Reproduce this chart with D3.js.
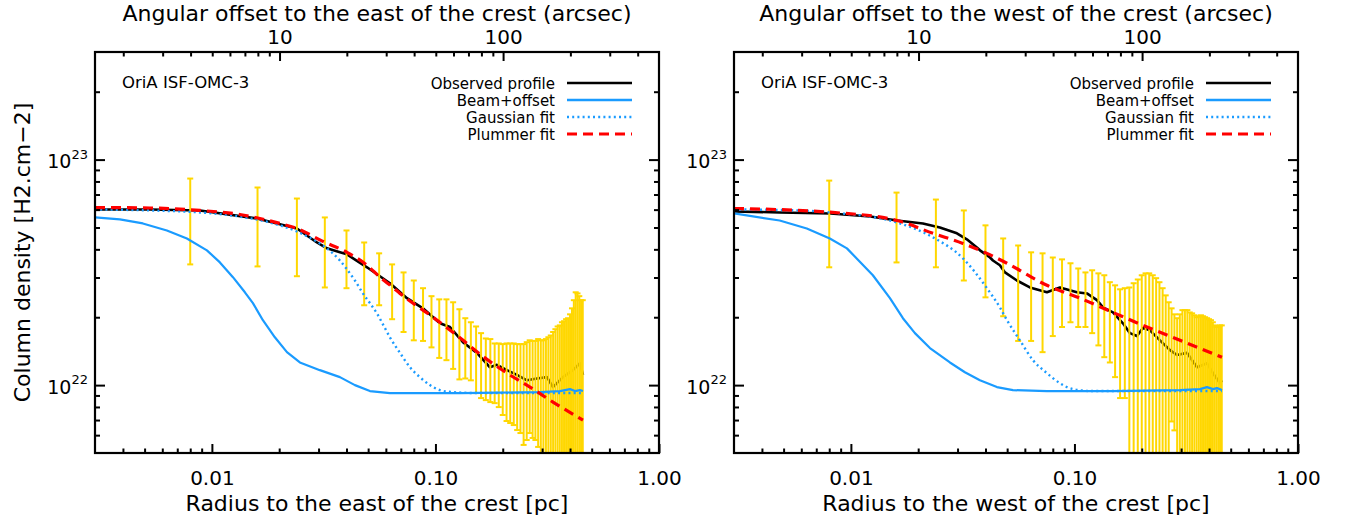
<!DOCTYPE html>
<html>
<head>
<meta charset="utf-8">
<script src="https://cdn.jsdelivr.net/npm/d3@7/dist/d3.min.js"></script>
<style>
html,body{margin:0;padding:0;background:#fff;}
svg{display:block;}
text{font-family:"DejaVu Sans",sans-serif;fill:#000;}
</style>
</head>
<body>
<svg id="chart" width="1346" height="522"></svg>
<script>
// ---------------- data ----------------
const sourceName = "OriA ISF-OMC-3";
const sides = ["east", "west"];
const legendNames = ["Observed profile", "Beam+offset", "Gaussian fit", "Plummer fit"];
const xTickValues = [0.01, 0.1, 1];
const xTickLabels = ["0.01", "0.10", "1.00"];
const topTickValues = [10, 100];
const topTickLabels = ["10", "100"];
const yTickValues = [1e22, 1e23];
const yTickBase = "10";
const yTickExps = ["22", "23"];
const distancePc = 414;

// radii of the error bars (pc)
const barRadius = [0.008,0.016,0.024,0.032,0.040,0.048,0.056,0.064,0.072,0.080,0.088,0.096,0.104,0.112,0.120,0.128,0.136,0.144,0.152,0.160,0.168,0.176,0.184,0.192,0.200,0.208,0.216,0.224,0.232,0.240,0.248,0.256,0.264,0.272,0.280,0.288,0.296,0.304,0.312,0.320,0.328,0.336,0.344,0.352,0.360,0.368,0.376,0.384,0.392,0.400,0.408,0.416,0.424,0.432,0.440,0.448,0.456];

// ---- east ----
const eastObsR = [0.003,0.00528,0.00884,0.0159,0.0240,0.0295,0.0327,0.0374,0.0402,0.0494,0.0626,0.0746,0.0879,0.1047,0.1161,0.1327,0.1533,0.1753,0.1884,0.2089,0.2315,0.2566,0.2844,0.3153,0.3355,0.3719,0.4122,0.4430,0.457];
const eastObsN = [6.01e22,6.01e22,5.95e22,5.48e22,4.95e22,4.29e22,4.04e22,3.88e22,3.80e22,3.33e22,2.83e22,2.43e22,2.19e22,1.88e22,1.81e22,1.55e22,1.39e22,1.20e22,1.23e22,1.165e22,1.11e22,1.05e22,1.07e22,1.085e22,9.8e21,1.085e22,1.165e22,1.25e22,1.11e22];
const eastBeamR = [0.003,0.003877,0.00491,0.00629,0.00773,0.00950,0.01086,0.01242,0.01405,0.01526,0.01691,0.01913,0.02166,0.02475,0.03041,0.03738,0.04363,0.05091,0.06257,0.0852,0.1287,0.1943,0.2935,0.3606,0.3998,0.4209,0.443,0.457];
const eastBeamN = [5.54e22,5.43e22,5.21e22,4.85e22,4.47e22,3.96e22,3.50e22,3.01e22,2.58e22,2.31e22,1.94e22,1.63e22,1.40e22,1.26e22,1.165e22,1.085e22,1.0e22,9.41e21,9.22e21,9.22e21,9.22e21,9.26e21,9.31e21,9.41e21,9.6e21,9.41e21,9.5e21,9.41e21];
const eastGaussR = [0.003,0.00528,0.00884,0.01334,0.01818,0.0240,0.02889,0.03269,0.03738,0.0402,0.04363,0.04739,0.05091,0.05472,0.05943,0.06257,0.06939,0.0769,0.0852,0.09449,0.1047,0.1197,0.1581,0.457];
const eastGaussN = [6.01e22,5.95e22,5.83e22,5.59e22,5.26e22,4.80e22,4.38e22,4.04e22,3.57e22,3.26e22,2.91e22,2.55e22,2.31e22,2.08e22,1.79e22,1.63e22,1.39e22,1.20e22,1.085e22,1.0e22,9.50e21,9.31e21,9.22e21,9.22e21];
const eastPlumR = [0.003,0.00528,0.00884,0.01334,0.0164,0.02015,0.0240,0.03137,0.0402,0.0494,0.05646,0.0645,0.06939,0.0975,0.1287,0.1631,0.2089,0.2648,0.3355,0.457];
const eastPlumN = [6.13e22,6.10e22,5.95e22,5.71e22,5.48e22,5.21e22,4.95e22,4.34e22,3.88e22,3.40e22,3.01e22,2.71e22,2.55e22,2.00e22,1.62e22,1.34e22,1.13e22,9.80e21,8.41e21,7.00e21];
const eastBarHi = [8.24e22,7.52e22,6.72e22,5.54e22,4.85e22,4.29e22,3.84e22,3.43e22,3.16e22,2.91e22,2.69e22,2.48e22,2.40e22,2.40e22,2.33e22,2.17e22,1.98e22,1.90e22,1.82e22,1.70e22,1.61e22,1.60e22,1.53e22,1.53e22,1.52e22,1.53e22,1.53e22,1.53e22,1.52e22,1.52e22,1.52e22,1.55e22,1.58e22,1.57e22,1.57e22,1.60e22,1.58e22,1.58e22,1.60e22,1.63e22,1.66e22,1.72e22,1.77e22,1.82e22,1.84e22,1.90e22,1.92e22,1.96e22,1.98e22,2.06e22,2.19e22,2.38e22,2.58e22,2.55e22,2.48e22,2.38e22,2.38e22];
const eastBarLo = [3.43e22,3.36e22,3.04e22,2.71e22,2.69e22,2.26e22,2.26e22,1.96e22,1.72e22,1.58e22,1.57e22,1.47e22,1.32e22,1.29e22,1.18e22,1.06e22,1.07e22,1.05e22,9.22e21,8.76e21,8.58e21,8.41e21,8.32e21,7.99e21,7.37e21,6.93e21,6.79e21,6.65e21,6.32e21,6.13e21,5.43e21,5.71e21,6.13e21,5.83e21,5.71e21,5.32e21,4.8e21,4.6e21,4.5e21,4.3e21,4.0e21,3.6e21,3.2e21,2.9e21,2.7e21,2.6e21,2.3e21,2.2e21,2.0e21,1.8e21,1.5e21,1.0e21,5e20,6e20,8e20,1e21,1e21];

// ---- west ----
const westObsR = [0.003,0.0048,0.0081,0.0122,0.0161,0.0210,0.0250,0.0298,0.0330,0.0366,0.0378,0.0419,0.0432,0.0464,0.0489,0.0553,0.0632,0.0753,0.0861,0.1026,0.1137,0.1261,0.1341,0.1487,0.1648,0.1771,0.1904,0.2025,0.2177,0.2413,0.2676,0.2875,0.3186,0.3533,0.3916,0.4165,0.4477,0.457];
const westObsN = [5.89e22,5.83e22,5.77e22,5.59e22,5.37e22,5.21e22,5.00e22,4.71e22,4.43e22,4.08e22,3.96e22,3.68e22,3.57e22,3.40e22,3.16e22,2.91e22,2.71e22,2.58e22,2.71e22,2.58e22,2.55e22,2.38e22,2.21e22,2.10e22,1.88e22,1.70e22,1.65e22,1.79e22,1.75e22,1.58e22,1.43e22,1.36e22,1.39e22,1.20e22,1.25e22,1.13e22,1.02e22,1.05e22];
const westBeamR = [0.003,0.0048,0.00635,0.00805,0.0096,0.01254,0.01495,0.01709,0.01934,0.02257,0.02773,0.03236,0.03777,0.04499,0.05307,0.07534,0.1487,0.2965,0.3643,0.3916,0.4165,0.4341,0.457];
const westBeamN = [5.77e22,5.37e22,4.95e22,4.47e22,4.04e22,3.07e22,2.43e22,1.98e22,1.70e22,1.46e22,1.26e22,1.14e22,1.05e22,9.80e21,9.50e21,9.41e21,9.41e21,9.50e21,9.60e21,9.80e21,9.60e21,9.70e21,9.50e21];
const westGaussR = [0.003,0.0059,0.0081,0.0161,0.0233,0.0317,0.0406,0.0464,0.0499,0.0570,0.0652,0.0753,0.0861,0.0985,0.1210,0.457];
const westGaussN = [6.01e22,5.95e22,5.83e22,5.26e22,4.52e22,3.65e22,2.69e22,2.21e22,1.94e22,1.58e22,1.29e22,1.13e22,1.02e22,9.60e21,9.41e21,9.41e21];
const westPlumR = [0.003,0.0083,0.0161,0.0233,0.0317,0.0406,0.0499,0.0753,0.1058,0.1487,0.2110,0.2965,0.457];
const westPlumN = [6.07e22,5.83e22,5.37e22,4.71e22,4.25e22,3.84e22,3.47e22,2.77e22,2.43e22,2.10e22,1.81e22,1.58e22,1.33e22];
const westBarHi = [8.07e22,7.14e22,6.65e22,5.95e22,5.11e22,4.47e22,4.16e22,3.88e22,3.84e22,3.68e22,3.61e22,3.47e22,3.29e22,3.16e22,3.23e22,3.13e22,3.07e22,2.86e22,2.77e22,2.66e22,2.69e22,2.71e22,2.83e22,2.94e22,3.07e22,3.13e22,3.13e22,3.07e22,2.98e22,2.86e22,2.69e22,2.50e22,2.33e22,2.19e22,2.06e22,1.98e22,2.06e22,2.15e22,2.15e22,2.15e22,2.10e22,2.08e22,2.04e22,2.00e22,2.02e22,2.04e22,2.02e22,2.00e22,1.98e22,1.96e22,1.94e22,1.90e22,1.84e22,1.81e22,1.82e22,1.84e22,1.84e22];
const westBarLo = [3.33e22,3.50e22,3.33e22,2.91e22,2.45e22,2.02e22,1.57e22,1.57e22,1.40e22,1.65e22,1.81e22,1.90e22,1.81e22,1.81e22,1.70e22,1.50e22,1.33e22,1.26e22,1.085e22,8.76e21,8.76e21,4.5e21,4.2e21,4.0e21,3.8e21,3.5e21,3.2e21,3.0e21,2.8e21,2.6e21,2.4e21,2.2e21,2.0e21,6.9e21,6.3e21,2.0e21,2.0e21,1.8e21,1.6e21,1.5e21,1.4e21,1.3e21,1.2e21,1.1e21,1.0e21,9e20,8e20,7e20,6e20,5e20,5e20,5e20,5e20,5e20,5e20,5e20,5e20];

// ---------------- drawing ----------------
const svg = d3.select("#chart");
const plotTop = 52, plotBottom = 453, plotWidth = 564;
const panelLeft = [95, 734];
const COL = {black:"#000", blue:"#1a9bff", yellow:"#ffd700", red:"#ff0000"};
const pcPerArcsec = distancePc / 206265;

const panels = [
  {obs:[eastObsR,eastObsN], beam:[eastBeamR,eastBeamN], gauss:[eastGaussR,eastGaussN], plum:[eastPlumR,eastPlumN], hi:eastBarHi, lo:eastBarLo},
  {obs:[westObsR,westObsN], beam:[westBeamR,westBeamN], gauss:[westGaussR,westGaussN], plum:[westPlumR,westPlumN], hi:westBarHi, lo:westBarLo}
];

const defs = svg.append("defs");

function minorLog(lo, hi) {
  const out = [];
  for (let e = Math.floor(Math.log10(lo)); e <= Math.ceil(Math.log10(hi)); e++) {
    for (let m = 2; m <= 9; m++) {
      const v = m * Math.pow(10, e);
      if (v > lo * 1.001 && v < hi * 0.999) out.push(v);
    }
  }
  return out;
}

function styleAxis(g) {
  g.select(".domain").remove();
  g.selectAll(".tick line").attr("stroke", "#000").attr("stroke-width", 2);
}

panels.forEach((p, i) => {
  const L = panelLeft[i], R = L + plotWidth;
  const x = d3.scaleLog().domain([0.003, 1]).range([L, R]);
  const xa = d3.scaleLog().domain([0.003 / pcPerArcsec, 1 / pcPerArcsec]).range([L, R]);
  const y = d3.scaleLog().domain([5e21, 3e23]).range([plotBottom, plotTop]);

  const clipId = "clip" + i;
  defs.append("clipPath").attr("id", clipId).append("rect")
    .attr("x", L).attr("y", plotTop).attr("width", plotWidth).attr("height", plotBottom - plotTop);

  const plot = svg.append("g").attr("clip-path", `url(#${clipId})`);
  const line = d3.line().x(d => x(d[0])).y(d => y(d[1]));
  const smooth = d3.line().x(d => x(d[0])).y(d => y(d[1])).curve(d3.curveMonotoneX);

  // observed profile
  plot.append("path").datum(d3.zip(p.obs[0], p.obs[1])).attr("d", line)
    .attr("fill", "none").attr("stroke", COL.black).attr("stroke-width", 2.6).attr("stroke-linejoin", "round");

  // error bars
  const bars = plot.append("g").attr("stroke", COL.yellow).attr("stroke-width", 2);
  barRadius.forEach((r, k) => {
    const xb = x(r), yh = y(p.hi[k]), yl = y(Math.max(p.lo[k], 1e20));
    bars.append("line").attr("x1", xb).attr("x2", xb).attr("y1", yh).attr("y2", yl);
    bars.append("line").attr("x1", xb - 3).attr("x2", xb + 3).attr("y1", yh).attr("y2", yh);
    bars.append("line").attr("x1", xb - 3).attr("x2", xb + 3).attr("y1", yl).attr("y2", yl);
  });

  // beam + offset
  plot.append("path").datum(d3.zip(p.beam[0], p.beam[1])).attr("d", line)
    .attr("fill", "none").attr("stroke", COL.blue).attr("stroke-width", 2.2).attr("stroke-linejoin", "round");
  // gaussian fit
  plot.append("path").datum(d3.zip(p.gauss[0], p.gauss[1])).attr("d", smooth)
    .attr("fill", "none").attr("stroke", COL.blue).attr("stroke-width", 2.4).attr("stroke-dasharray", "2,3.2");
  // plummer fit
  plot.append("path").datum(d3.zip(p.plum[0], p.plum[1])).attr("d", smooth)
    .attr("fill", "none").attr("stroke", COL.red).attr("stroke-width", 3.2).attr("stroke-dasharray", "10,6");

  // frame
  svg.append("rect").attr("x", L).attr("y", plotTop).attr("width", plotWidth).attr("height", plotBottom - plotTop)
    .attr("fill", "none").attr("stroke", "#000").attr("stroke-width", 2.2);

  // bottom axis
  svg.append("g").attr("transform", `translate(0,${plotBottom})`)
    .call(d3.axisBottom(x).tickValues(minorLog(0.003, 1)).tickSize(-4.5).tickFormat("")).call(styleAxis);
  const bx = svg.append("g").attr("transform", `translate(0,${plotBottom})`)
    .call(d3.axisBottom(x).tickValues(xTickValues).tickSize(-9).tickPadding(18).tickFormat((d, k) => xTickLabels[k]))
    .call(styleAxis);
  bx.selectAll("text").attr("font-size", 20).attr("font-family", "DejaVu Sans").attr("fill", "#000");

  // top axis
  svg.append("g").attr("transform", `translate(0,${plotTop})`)
    .call(d3.axisTop(xa).tickValues(minorLog(xa.domain()[0], xa.domain()[1])).tickSize(-4.5).tickFormat("")).call(styleAxis);
  const tx = svg.append("g").attr("transform", `translate(0,${plotTop})`)
    .call(d3.axisTop(xa).tickValues(topTickValues).tickSize(-9).tickPadding(8).tickFormat((d, k) => topTickLabels[k]))
    .call(styleAxis);
  tx.selectAll("text").attr("font-size", 20).attr("font-family", "DejaVu Sans").attr("fill", "#000");

  // left & right axes
  const yMinor = minorLog(5e21, 3e23);
  svg.append("g").attr("transform", `translate(${L},0)`)
    .call(d3.axisLeft(y).tickValues(yMinor).tickSize(-5).tickFormat("")).call(styleAxis);
  svg.append("g").attr("transform", `translate(${L},0)`)
    .call(d3.axisLeft(y).tickValues(yTickValues).tickSize(-10).tickFormat("")).call(styleAxis);
  svg.append("g").attr("transform", `translate(${R},0)`)
    .call(d3.axisRight(y).tickValues(yMinor).tickSize(-5).tickFormat("")).call(styleAxis);
  svg.append("g").attr("transform", `translate(${R},0)`)
    .call(d3.axisRight(y).tickValues(yTickValues).tickSize(-10).tickFormat("")).call(styleAxis);

  // y tick labels with superscripts
  yTickValues.forEach((v, k) => {
    const t = svg.append("text").attr("x", L - 7).attr("y", y(v) + 8.5).attr("text-anchor", "end");
    t.append("tspan").attr("font-size", 19).text(yTickBase);
    t.append("tspan").attr("font-size", 13).attr("dy", -9.5).text(yTickExps[k]);
  });

  // axis titles
  const cx = (L + R) / 2;
  svg.append("text").attr("x", cx).attr("y", 21).attr("text-anchor", "middle").attr("font-size", 22)
    .text(`Angular offset to the ${sides[i]} of the crest (arcsec)`);
  svg.append("text").attr("x", cx).attr("y", 511).attr("text-anchor", "middle").attr("font-size", 22)
    .text(`Radius to the ${sides[i]} of the crest [pc]`);
  if (i === 0) {
    svg.append("text").attr("transform", `translate(30,${(plotTop + plotBottom) / 2}) rotate(-90)`)
      .attr("text-anchor", "middle").attr("font-size", 22).text("Column density [H2.cm\u22122]");
  }

  // source label
  svg.append("text").attr("x", L + 27).attr("y", 88).attr("font-size", 16.5).text(sourceName);

  // legend
  const styles = [
    {c: COL.black, w: 2.6, d: null},
    {c: COL.blue, w: 2.6, d: null},
    {c: COL.blue, w: 2.6, d: "2,3.2"},
    {c: COL.red, w: 3.2, d: "10,6"}
  ];
  legendNames.forEach((name, k) => {
    const ly = 83 + 17 * k;
    svg.append("text").attr("x", L + 460).attr("y", ly + 5.5).attr("text-anchor", "end").attr("font-size", 15).text(name);
    const ln = svg.append("line").attr("x1", L + 472).attr("x2", L + 537).attr("y1", ly).attr("y2", ly)
      .attr("stroke", styles[k].c).attr("stroke-width", styles[k].w);
    if (styles[k].d) ln.attr("stroke-dasharray", styles[k].d);
  });
});
</script>
</body>
</html>
